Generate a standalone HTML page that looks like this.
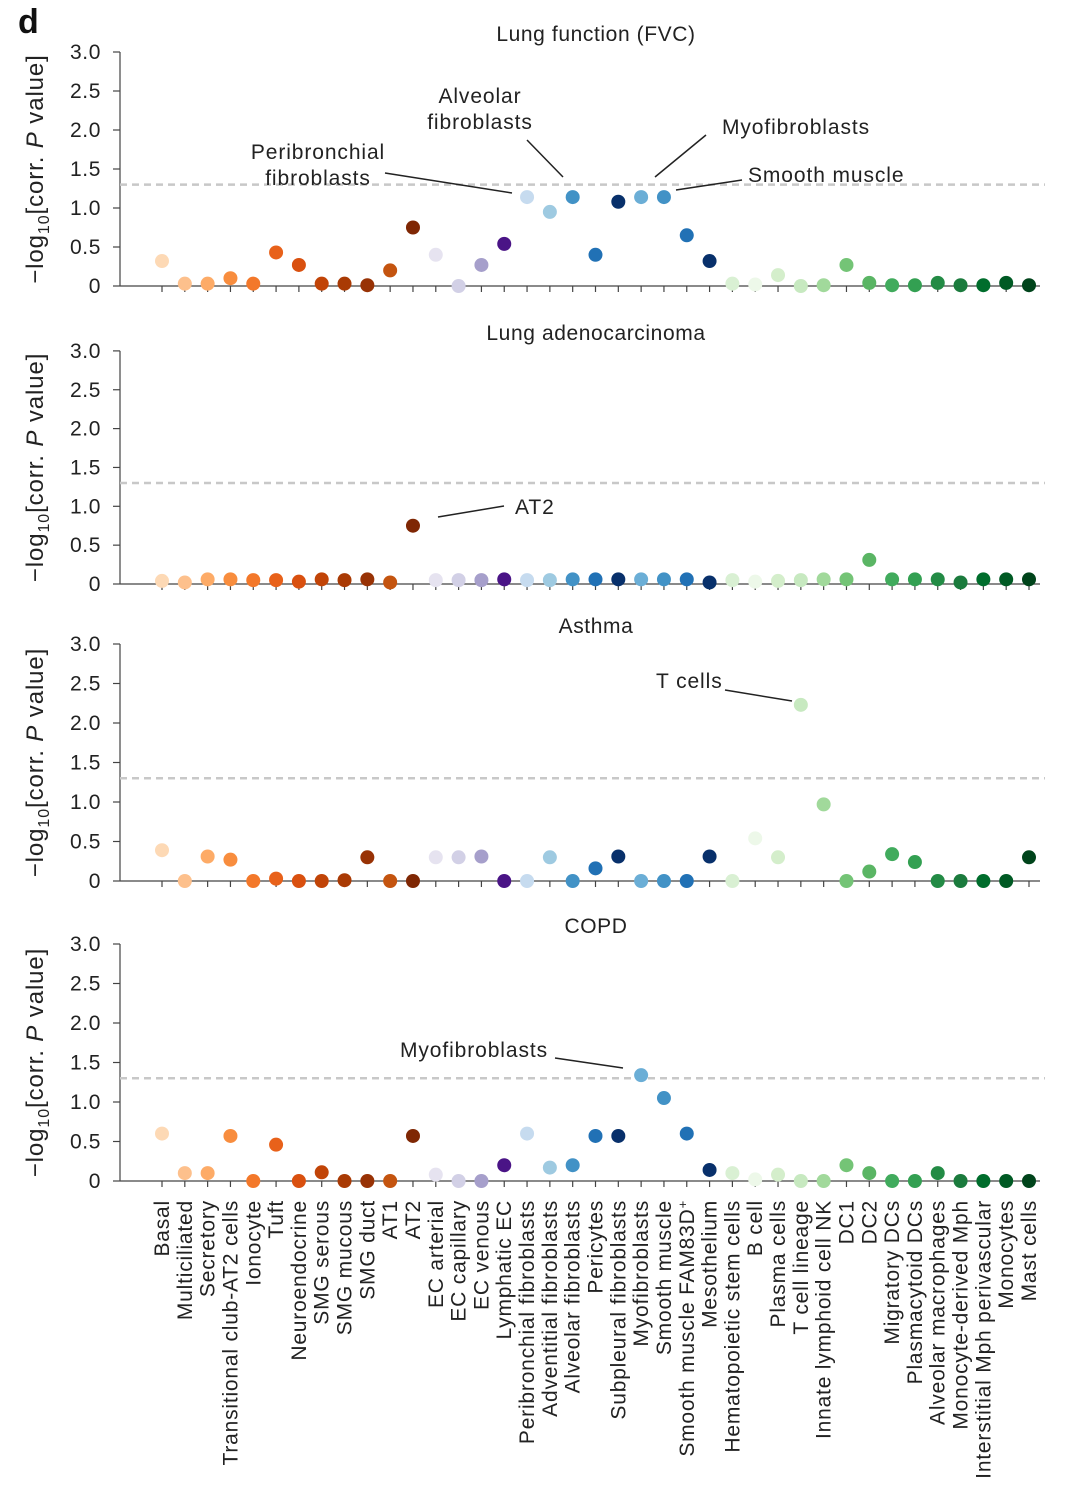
<!DOCTYPE html>
<html><head><meta charset="utf-8">
<style>
html,body{margin:0;padding:0;background:#fff;}
svg{display:block;font-family:"Liberation Sans",sans-serif;}
</style></head>
<body>
<svg id="chart" width="1080" height="1489" viewBox="0 0 1080 1489" xmlns="http://www.w3.org/2000/svg">
<text x="18" y="33" font-size="34" font-weight="bold" fill="#111">d</text>
</svg>
<script>
const categories=["Basal","Multiciliated","Secretory","Transitional club-AT2 cells","Ionocyte","Tuft","Neuroendocrine","SMG serous","SMG mucous","SMG duct","AT1","AT2","EC arterial","EC capillary","EC venous","Lymphatic EC","Peribronchial fibroblasts","Adventitial fibroblasts","Alveolar fibroblasts","Pericytes","Subpleural fibroblasts","Myofibroblasts","Smooth muscle","Smooth muscle FAM83D+","Mesothelium","Hematopoietic stem cells","B cell","Plasma cells","T cell lineage","Innate lymphoid cell NK","DC1","DC2","Migratory DCs","Plasmacytoid DCs","Alveolar macrophages","Monocyte-derived Mph","Interstitial Mph perivascular","Monocytes","Mast cells"];
const colors=["#fdd9b5","#fdc08c","#fdab67","#f88d3e","#f3782a","#e8611a","#d9500f","#c14407","#a93a04","#983205","#c4540f","#7f2704","#e6e3f0","#d2d0e6","#a69fcb","#4a1486","#c6dbef","#9ecae1","#4292c6","#2171b5","#08306b","#6baed6","#4292c6","#2171b5","#08306b","#d9f0d3","#edf8e9","#d4eecb","#c7e9c0","#a1d99b","#74c476","#5ab564","#41ab5d","#33a052","#238b45","#1b7b3d","#006d2c","#005a24","#00441b"];
const titles=["Lung function (FVC)","Lung adenocarcinoma","Asthma","COPD"];
const fvcValues=[0.32,0.03,0.03,0.1,0.03,0.43,0.27,0.03,0.03,0.01,0.2,0.75,0.4,0.0,0.27,0.54,1.14,0.95,1.14,0.4,1.08,1.14,1.14,0.65,0.32,0.03,0.02,0.14,0.0,0.01,0.27,0.04,0.01,0.01,0.04,0.01,0.01,0.04,0.01];
const luadValues=[0.04,0.02,0.06,0.06,0.05,0.05,0.03,0.06,0.05,0.06,0.02,0.75,0.05,0.05,0.05,0.06,0.05,0.05,0.06,0.06,0.06,0.06,0.06,0.06,0.02,0.05,0.03,0.04,0.05,0.06,0.06,0.31,0.06,0.06,0.06,0.02,0.06,0.06,0.06];
const asthmaValues=[0.39,0.0,0.31,0.27,0.0,0.03,0.0,0.0,0.01,0.3,0.0,0.0,0.3,0.3,0.31,0.0,0.0,0.3,0.0,0.16,0.31,0.0,0.0,0.0,0.31,0.0,0.54,0.3,2.23,0.97,0.0,0.12,0.34,0.24,0.0,0.0,0.0,0.0,0.3];
const copdValues=[0.6,0.1,0.1,0.57,0.0,0.46,0.0,0.11,0.0,0.0,0.0,0.57,0.08,0.0,0.0,0.2,0.6,0.17,0.2,0.57,0.57,1.34,1.05,0.6,0.14,0.1,0.02,0.08,0.0,0.0,0.2,0.1,0.0,0.0,0.1,0.0,0.0,0.0,0.0];
const yTicks=[0,0.5,1.0,1.5,2.0,2.5,3.0];
const yTickLabels=["0","0.5","1.0","1.5","2.0","2.5","3.0"];
const threshold=1.3;
const series=[fvcValues,luadValues,asthmaValues,copdValues];
const panelZero=[286,584,881,1181];
const panelScale=[78,77.7,79,79];
const svg=document.getElementById('chart');
const NS="http://www.w3.org/2000/svg";
function mk(tag,attrs,parent){const e=document.createElementNS(NS,tag);for(const k in attrs)e.setAttribute(k,attrs[k]);(parent||svg).appendChild(e);return e;}
function xPos(i){return 162+i*(1029-162)/(categories.length-1);}
series.forEach((vals,p)=>{
  const z=panelZero[p],s=panelScale[p];
  const y=v=>z-v*s;
  const g=mk('g',{});
  
  
  const t=mk('text',{x:596,y:y(3.0)-11,'font-size':21,'letter-spacing':0.6,'text-anchor':'middle',fill:'#222'},g);
  t.textContent=titles[p];
  
  
  const ya=mk('line',{x1:120,x2:120,y1:y(3.0),y2:z,stroke:'#444','stroke-width':1.2},g);
  
  
  const xa=mk('line',{x1:120,x2:1040,y1:z,y2:z,stroke:'#444','stroke-width':1.2},g);
  
  
  yTicks.forEach((v,k)=>{
    mk('line',{x1:113,x2:120,y1:y(v),y2:y(v),stroke:'#444','stroke-width':1.2},g);
    const tl=mk('text',{x:101,y:y(v)+7,'font-size':21,'letter-spacing':0.6,'text-anchor':'end',fill:'#222'},g);
    tl.textContent=yTickLabels[k];
    
    
  });
  const th=mk('line',{x1:120,x2:1045,y1:y(threshold),y2:y(threshold),stroke:'#c8c8c8','stroke-width':2.5,'stroke-dasharray':'7,5'},g);
  
  
  categories.forEach((c,i)=>{mk('line',{x1:xPos(i),x2:xPos(i),y1:z,y2:z+6,stroke:'#444','stroke-width':1.2},g);});
  const yt=mk('text',{transform:`translate(43,${y(1.5)}) rotate(-90)`,'font-size':24,'letter-spacing':0.9,'text-anchor':'middle',fill:'#222'},g);
  yt.innerHTML='−log<tspan font-size="16" dy="6">10</tspan><tspan dy="-6">[corr. </tspan><tspan font-style="italic">P</tspan> value]';
  
  
  vals.forEach((v,i)=>{
    const c=mk('circle',{cx:xPos(i),cy:y(v),r:7,fill:colors[i]},g);
    
    
  });
});
categories.forEach((c,i)=>{
  const t=mk('text',{transform:`translate(${xPos(i)+7},1200) rotate(-90)`,'font-size':21,'letter-spacing':0.8,'text-anchor':'end',fill:'#222'});
  if(c==="Smooth muscle FAM83D+"){t.innerHTML='Smooth muscle FAM83D<tspan font-size="13" dy="-7">+</tspan>';}else t.textContent=c;
  
  
});
const ann=[
 {lines:["Peribronchial","fibroblasts"],x:318,y:159,anchor:'middle',l:[385,173,512,193]},
 {lines:["Alveolar","fibroblasts"],x:480,y:103,anchor:'middle',l:[527,140,563,177]},
 {lines:["Myofibroblasts"],x:722,y:134,anchor:'start',l:[706,135,655,177]},
 {lines:["Smooth muscle"],x:748,y:182,anchor:'start',l:[742,180,676,190]},
 {lines:["AT2"],x:515,y:514,anchor:'start',l:[504,506,438,517]},
 {lines:["T cells"],x:656,y:688,anchor:'start',l:[725,690,792,701]},
 {lines:["Myofibroblasts"],x:400,y:1057,anchor:'start',l:[555,1058,623,1068]}
];
ann.forEach(a=>{
  const t=mk('text',{x:a.x,y:a.y,'font-size':21,'letter-spacing':0.9,'text-anchor':a.anchor,fill:'#222'});
  a.lines.forEach((s,k)=>{const ts=mk('tspan',{x:a.x,dy:k?26:0},t);ts.textContent=s;});
  
  
  const ln=mk('line',{x1:a.l[0],y1:a.l[1],x2:a.l[2],y2:a.l[3],stroke:'#222','stroke-width':1.5});
  
  
});
</script>
</body></html>
